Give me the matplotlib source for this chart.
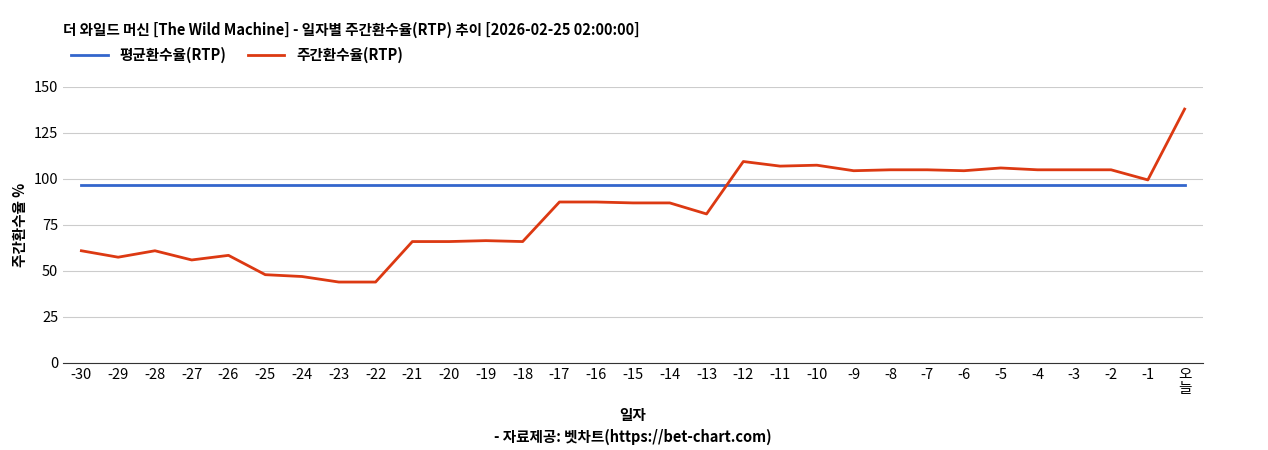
import matplotlib
matplotlib.use("Agg")
import matplotlib.pyplot as plt

plt.rcParams['font.family'] = ['Noto Sans CJK KR', 'DejaVu Sans']

labels = [str(i) for i in range(-30, 0)] + ["오\n늘"]
weekly = [61, 57.5, 61, 56, 58.5, 48, 47, 44, 44, 66, 66, 66.5, 66, 87.5, 87.5, 87, 87, 81,
          109.5, 107, 107.5, 104.5, 105, 105, 104.5, 106, 105, 105, 105, 99.5, 138]
avg = [96.5] * len(labels)

fig = plt.figure(figsize=(12.68, 4.5), dpi=100)
ax = fig.add_axes([63/1268, 1-363/450, 1140/1268, 276/450])
x = list(range(len(labels)))
ax.plot(x, avg, color='#3366cc', lw=2, label='평균환수율(RTP)')
ax.plot(x, weekly, color='#dc3912', lw=2, label='주간환수율(RTP)')
ax.set_xlim(-0.5, len(labels) - 0.5)
ax.set_ylim(0, 150)
ax.set_yticks([0, 25, 50, 75, 100, 125, 150])
ax.set_xticks(x)
ax.set_xticklabels(labels, fontsize=10.5, linespacing=1.0)
ax.tick_params(axis='y', labelsize=10.5, length=0)
ax.tick_params(axis='x', length=0)
ax.grid(axis='y', color='#cccccc', lw=0.8)
for s in ['top', 'right', 'left']:
    ax.spines[s].set_visible(False)
ax.spines['bottom'].set_color('#333333')
ax.set_ylabel('주간환수율 %', fontsize=10.5, fontweight='bold')
fig.text(63/1268, 1-30/450, '더 와일드 머신 [The Wild Machine] - 일자별 주간환수율(RTP) 추이 [2026-02-25 02:00:00]',
         fontsize=10.5, fontweight='bold', va='center')
fig.legend(loc='center left', bbox_to_anchor=(58/1268, 1-55/450), ncol=2, frameon=False,
           fontsize=10.5, prop={'weight': 'bold', 'size': 10.5}, handlelength=2.5, columnspacing=1.5)
fig.text(633/1268, 1-415/450, '일자', ha='center', va='center', fontsize=10.5, fontweight='bold')
fig.text(633/1268, 1-437/450, '- 자료제공: 벳차트(https://bet-chart.com)', ha='center', va='center',
         fontsize=10.5, fontweight='bold')
fig.savefig('out.png', dpi=100)
